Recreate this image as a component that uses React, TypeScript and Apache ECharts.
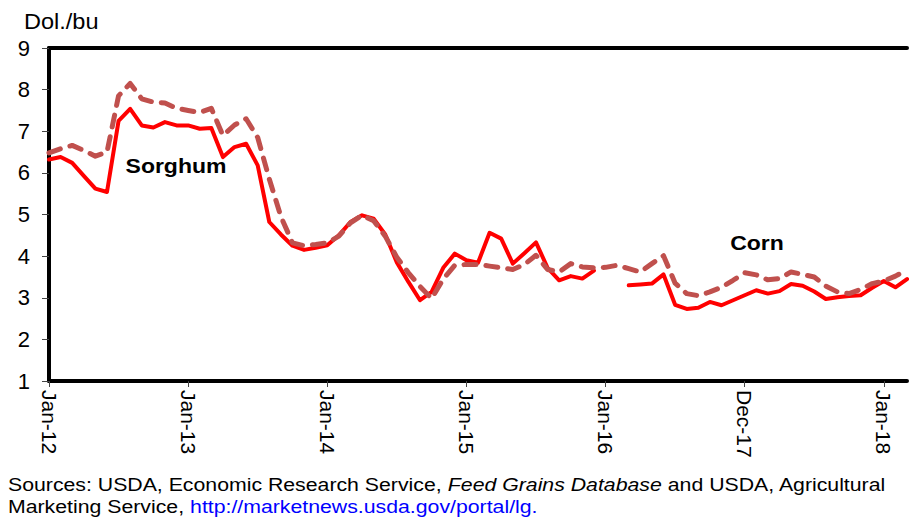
import React, { useEffect, useRef } from "react";
import * as echarts from "echarts";

const months = [
  "Jan-12","Feb-12","Mar-12","Apr-12","May-12","Jun-12","Jul-12","Aug-12","Sep-12","Oct-12","Nov-12","Dec-12",
  "Jan-13","Feb-13","Mar-13","Apr-13","May-13","Jun-13","Jul-13","Aug-13","Sep-13","Oct-13","Nov-13","Dec-13",
  "Jan-14","Feb-14","Mar-14","Apr-14","May-14","Jun-14","Jul-14","Aug-14","Sep-14","Oct-14","Nov-14","Dec-14",
  "Jan-15","Feb-15","Mar-15","Apr-15","May-15","Jun-15","Jul-15","Aug-15","Sep-15","Oct-15","Nov-15","Dec-15",
  "Jan-16","Feb-16","Mar-16","Apr-16","May-16","Jun-16","Jul-16","Aug-16","Sep-16","Oct-16","Nov-16","Dec-16",
  "Jan-17","Feb-17","Mar-17","Apr-17","May-17","Jun-17","Jul-17","Aug-17","Sep-17","Oct-17","Nov-17","Dec-17",
  "Jan-18","Feb-18","Mar-18",
];

const tickLabels = ["Jan-12", "Jan-13", "Jan-14", "Jan-15", "Jan-16", "Dec-17", "Jan-18"];

const sorghum = [
  6.32, 6.38, 6.24, 5.93, 5.62, 5.54, 7.25, 7.54, 7.14, 7.09, 7.22, 7.14,
  7.14, 7.06, 7.08, 6.38, 6.62, 6.70, 6.18, 4.82, 4.52, 4.25, 4.15, 4.20,
  4.26, 4.50, 4.82, 4.98, 4.90, 4.52, 3.85, 3.38, 2.94, 3.14, 3.72, 4.06,
  3.90, 3.84, 4.56, 4.42, 3.82, 4.07, 4.33, 3.72, 3.42, 3.52, 3.46, 3.65,
  null, null, 3.30, 3.32, 3.34, 3.56, 2.83, 2.73, 2.76, 2.90, 2.82, 2.94,
  3.06, 3.18, 3.10, 3.16, 3.33, 3.29, 3.15, 2.97, 3.01, 3.04, 3.06, 3.24,
  3.40, 3.25, 3.45,
];

const corn = [
  6.48, 6.58, 6.66, 6.54, 6.40, 6.50, 7.85, 8.15, 7.78, 7.70, 7.68, 7.55,
  7.50, 7.45, 7.55, 6.90, 7.15, 7.30, 6.85, 5.85, 4.95, 4.32, 4.25, 4.28,
  4.32, 4.48, 4.80, 4.98, 4.85, 4.48, 3.97, 3.60, 3.27, 2.98, 3.45, 3.78,
  3.80, 3.80, 3.76, 3.72, 3.68, 3.80, 4.02, 3.68, 3.62, 3.82, 3.74, 3.72,
  3.73, 3.78, 3.70, 3.62, 3.82, 4.01, 3.35, 3.10, 3.05, 3.14, 3.25, 3.42,
  3.60, 3.55, 3.43, 3.46, 3.62, 3.56, 3.50, 3.28, 3.14, 3.10, 3.20, 3.34,
  3.40, 3.52, 3.67,
];

const yTicks = { min: 1, max: 9, interval: 1 };

const FONT = "'Liberation Sans', Arial, sans-serif";

export default function App() {
  const ref = useRef<HTMLDivElement>(null);

  useEffect(() => {
    if (!ref.current) return;
    const chart = echarts.init(ref.current, null, { renderer: "svg" });
    chart.setOption({
      animation: false,
      backgroundColor: "#ffffff",
      grid: { left: 49, right: 2, top: 48, bottom: 137, containLabel: false },
      xAxis: [
        {
          type: "category",
          data: months,
          boundaryGap: false,
          axisLine: { show: true, lineStyle: { color: "#000", width: 4 } },
          axisTick: {
            show: true,
            interval: 11,
            length: 6,
            lineStyle: { color: "#444", width: 1 },
          },
          axisLabel: {
            interval: 11,
            rotate: -90,
            margin: 9,
            color: "#000",
            fontSize: 21,
            fontFamily: FONT,
            formatter: (_v: string, i: number) => tickLabels[Math.round(i / 12)] ?? "",
          },
          splitLine: { show: false },
        },
        {
          type: "category",
          data: months,
          position: "top",
          boundaryGap: false,
          axisLine: { show: true, lineStyle: { color: "#000", width: 4 } },
          axisTick: { show: false },
          axisLabel: { show: false },
          splitLine: { show: false },
        },
      ],
      yAxis: {
        type: "value",
        min: yTicks.min,
        max: yTicks.max,
        interval: yTicks.interval,
        axisLine: { show: true, lineStyle: { color: "#000", width: 4 } },
        axisTick: { show: true, length: 7, lineStyle: { color: "#444", width: 1 } },
        axisLabel: {
          margin: 19,
          color: "#000",
          fontSize: 22,
          fontFamily: FONT,
        },
        splitLine: { show: false },
      },
      series: [
        {
          name: "Sorghum",
          type: "line",
          data: sorghum,
          showSymbol: false,
          symbol: "none",
          connectNulls: false,
          lineStyle: { color: "#ff0000", width: 4, join: "round", cap: "round" },
          z: 2,
        },
        {
          name: "Corn",
          type: "line",
          data: corn,
          showSymbol: false,
          symbol: "none",
          lineStyle: {
            color: "#c0504d",
            width: 5,
            type: [12, 10],
            cap: "round",
            join: "round",
          },
          z: 3,
        },
      ],
      graphic: [
        {
          type: "text",
          x: 24,
          y: 21,
          scaleX: 1.07,
          style: {
            text: "Dol./bu",
            fontSize: 22,
            fontFamily: FONT,
            fill: "#000",
            textAlign: "left",
            textVerticalAlign: "middle",
          },
        },
        {
          type: "text",
          x: 176,
          y: 166,
          scaleX: 1.15,
          style: {
            text: "Sorghum",
            fontSize: 20,
            fontWeight: "bold",
            fontFamily: FONT,
            fill: "#000",
            textAlign: "center",
            textVerticalAlign: "middle",
          },
        },
        {
          type: "text",
          x: 757,
          y: 243,
          scaleX: 1.15,
          style: {
            text: "Corn",
            fontSize: 20,
            fontWeight: "bold",
            fontFamily: FONT,
            fill: "#000",
            textAlign: "center",
            textVerticalAlign: "middle",
          },
        },
        {
          type: "text",
          x: 8,
          y: 474,
          scaleX: 1.15,
          style: {
            text:
              "Sources: USDA, Economic Research Service, {i|Feed Grains Database} and USDA, Agricultural\nMarketing Service, {link|http://marketnews.usda.gov/portal/lg.}",
            fontSize: 18.5,
            lineHeight: 22,
            fontFamily: FONT,
            fill: "#000",
            textAlign: "left",
            textVerticalAlign: "top",
            rich: {
              i: { fontStyle: "italic", fontSize: 18.5, lineHeight: 22, fontFamily: FONT, fill: "#000" },
              link: { fill: "#0000ff", fontSize: 18.5, lineHeight: 22, fontFamily: FONT },
            },
          },
        },
      ],
    });
    return () => chart.dispose();
  }, []);

  return (
    <div
      ref={ref}
      style={{ position: "fixed", left: 0, top: 0, width: 909, height: 518, background: "#fff" }}
    />
  );
}
